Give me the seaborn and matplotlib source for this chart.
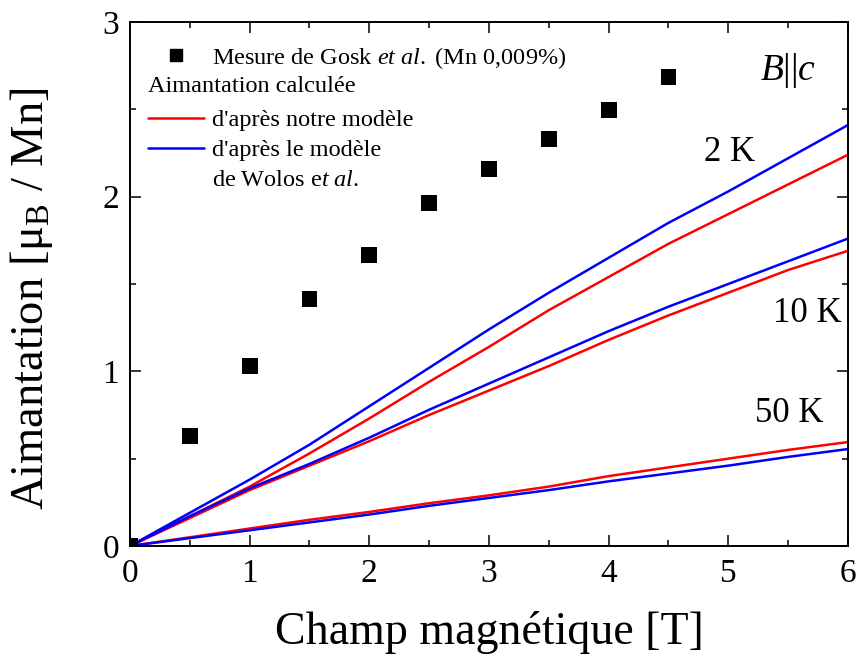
import matplotlib
matplotlib.use("Agg")
import matplotlib.pyplot as plt
import seaborn as sns
from matplotlib.lines import Line2D
from matplotlib.ticker import MultipleLocator

# Champ magnétique [T]
field = [0, 0.5, 1, 1.5, 2, 2.5, 3, 3.5, 4, 4.5, 5, 5.5, 6]

# aimantation calculée, d'après notre modèle (rouge) / modèle de Wolos (bleu)
m2_red = [0, 0.17, 0.34, 0.53, 0.73, 0.94, 1.14, 1.35, 1.54, 1.73, 1.90, 2.07, 2.24]
m2_blue = [0, 0.19, 0.38, 0.58, 0.80, 1.02, 1.24, 1.45, 1.65, 1.85, 2.03, 2.22, 2.41]
m10_red = [0, 0.16, 0.32, 0.46, 0.60, 0.75, 0.89, 1.03, 1.18, 1.32, 1.45, 1.58, 1.69]
m10_blue = [0, 0.17, 0.33, 0.47, 0.62, 0.78, 0.93, 1.08, 1.23, 1.37, 1.50, 1.63, 1.76]
m50_red = [0, 0.05, 0.10, 0.15, 0.195, 0.245, 0.29, 0.34, 0.40, 0.45, 0.50, 0.55, 0.595]
m50_blue = [0, 0.045, 0.09, 0.135, 0.18, 0.23, 0.275, 0.32, 0.37, 0.415, 0.46, 0.51, 0.555]

# mesure de Gosk et al.
gosk_field = [0, 0.5, 1, 1.5, 2, 2.5, 3, 3.5, 4, 4.5]
gosk_m = [0, 0.63, 1.03, 1.415, 1.665, 1.965, 2.16, 2.33, 2.495, 2.685]

temp_labels = ["2 K", "10 K", "50 K"]

sns.set_theme(style="ticks")
plt.rcParams["font.family"] = ["Liberation Serif", "DejaVu Serif"]
plt.rcParams["mathtext.fontset"] = "custom"
plt.rcParams["mathtext.rm"] = "Liberation Serif"
plt.rcParams["mathtext.it"] = "Liberation Serif:italic"
plt.rcParams["mathtext.bf"] = "Liberation Serif:bold"
for key in ["text.color", "axes.labelcolor", "xtick.color", "ytick.color",
            "axes.edgecolor"]:
    plt.rcParams[key] = "black"

fig = plt.figure(figsize=(8.58, 6.56), dpi=100)
ax = fig.add_axes([0.1515, 0.1677, 0.8368, 0.7988])

lw = 1.8
for red, blue in [(m2_red, m2_blue), (m10_red, m10_blue), (m50_red, m50_blue)]:
    sns.lineplot(x=field, y=red, color="#ff0000", linewidth=lw, ax=ax)
    sns.lineplot(x=field, y=blue, color="#0000ff", linewidth=lw, ax=ax)

sns.scatterplot(x=gosk_field, y=gosk_m, marker="s", s=130, color="black",
                edgecolor="none", ax=ax, zorder=3)

ax.set_xlim(0, 6)
ax.set_ylim(0, 3)
ax.xaxis.set_major_locator(MultipleLocator(1))
ax.xaxis.set_minor_locator(MultipleLocator(0.5))
ax.yaxis.set_major_locator(MultipleLocator(1))
ax.yaxis.set_minor_locator(MultipleLocator(0.5))
ax.tick_params(which="both", direction="in", top=True, right=True,
               width=1.1, color="black", labelsize=24)
ax.tick_params(which="major", length=8)
ax.tick_params(which="minor", length=4)
ax.tick_params(axis="x", pad=9)
ax.tick_params(axis="y", pad=8)
for sp in ax.spines.values():
    sp.set_linewidth(1.4)
    sp.set_color("black")

ax.set_xlabel("Champ magnétique [T]", fontsize=33, labelpad=16)
ax.set_ylabel("Aimantation [μ$_\\mathrm{B}$ / Mn]", fontsize=33.5)
ax.yaxis.set_label_coords(-0.1045, 0.472)

# annotations
ax.text(5.01, 2.25, temp_labels[0], fontsize=25, ha="center", va="center")
ax.text(5.66, 1.33, temp_labels[1], fontsize=25, ha="center", va="center")
ax.text(5.51, 0.76, temp_labels[2], fontsize=25, ha="center", va="center")
ax.text(5.5, 2.72, "$B$||$c$", fontsize=27, ha="center", va="center")

# légende
handles = [
    Line2D([], [], marker="s", color="black", linestyle="none", markersize=8),
    Line2D([], [], color="none"),
    Line2D([], [], color="#ff0000", linewidth=lw),
    Line2D([], [], color="#0000ff", linewidth=lw),
    Line2D([], [], color="none"),
]
labels = [
    "Mesure de Gosk $\\it{et\\ al.}$ (Mn 0,009%)",
    " ",
    "d'après notre modèle",
    "d'après le modèle",
    "de Wolos e$\\it{t\\ al.}$",
]
ax.legend(handles, labels, loc="upper left", bbox_to_anchor=(0.025, 0.956),
          frameon=False, fontsize=17.5, borderaxespad=0, borderpad=0,
          handlelength=2.3, handletextpad=0.35, labelspacing=0.33)
ax.text(0.025, 0.876, "Aimantation calculée", transform=ax.transAxes,
        fontsize=17.5, ha="left", va="center")

fig.savefig("out.png", dpi=100)
